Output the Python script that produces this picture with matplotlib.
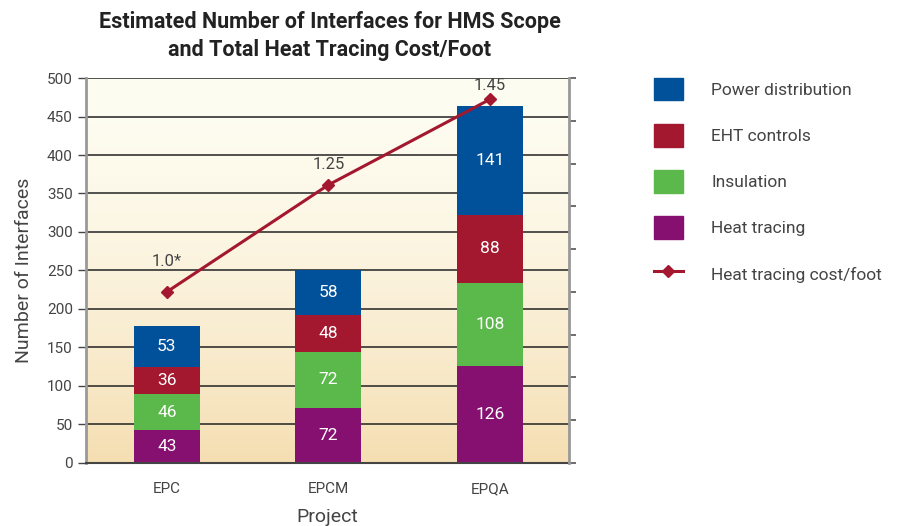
import numpy as np
import matplotlib
matplotlib.use("Agg")
import matplotlib.pyplot as plt
from matplotlib.patches import Patch
from matplotlib.lines import Line2D

plt.rcParams['font.family'] = ['Roboto', 'DejaVu Sans']

projects = ["EPC", "EPCM", "EPQA"]
heat_tracing = [43, 72, 126]
insulation = [46, 72, 108]
eht_controls = [36, 48, 88]
power_distribution = [53, 58, 141]
cost_per_foot = [1.0, 1.25, 1.45]
cost_labels = ["1.0*", "1.25", "1.45"]

series = [
    ("Heat tracing", heat_tracing, "#85106f"),
    ("Insulation", insulation, "#5bb84a"),
    ("EHT controls", eht_controls, "#a3182e"),
    ("Power distribution", power_distribution, "#00509a"),
]
line_color = "#a3182e"
text_gray = "#444444"

fig = plt.figure(figsize=(9.01, 5.26), dpi=100)
ax = fig.add_axes([0.0955, 0.1198, 0.536, 0.7319])

# gradient background
grad = np.linspace(0, 1, 256).reshape(-1, 1)
top = np.array([254, 253, 242]) / 255
bot = np.array([245, 222, 178]) / 255
img = top + (bot - top) * grad[..., None] ** 1.6
x = np.arange(len(projects))
ax.set_xlim(-0.5, 2.49)
ax.set_ylim(0, 500)
ax.imshow(img, extent=[-0.5, 2.49, 0, 500], aspect="auto", zorder=0, origin="upper")

ax.set_axisbelow(True)
ax.yaxis.grid(True, color="#222222", lw=1.1)

bottom = np.zeros(len(projects))
for name, vals, col in series:
    ax.bar(x, vals, 0.41, bottom=bottom, color=col, zorder=2)
    for xi, v, b in zip(x, vals, bottom):
        ax.text(xi, b + v / 2, str(v), ha="center", va="center",
                color="white", fontsize=12.5, zorder=3)
    bottom += np.array(vals)

ax.set_yticks(np.arange(0, 501, 50))
ax.set_xticks(x)
ax.set_xticklabels(projects)
ax.tick_params(axis="y", labelsize=11, colors=text_gray, length=6, width=1, direction="out")
ax.tick_params(axis="x", labelsize=11, colors=text_gray, length=0, pad=14)
ax.set_ylabel("Number of Interfaces", fontsize=14, color=text_gray, labelpad=10)
ax.set_xlabel("Project", fontsize=14, color=text_gray, labelpad=8)
ax.spines["top"].set_visible(False)
ax.spines["right"].set_visible(False)
ax.spines["left"].set_color("#999999")
ax.spines["left"].set_linewidth(2)
ax.spines["bottom"].set_color("#444444")
ax.spines["bottom"].set_linewidth(1.5)

ax2 = ax.twinx()
ax2.set_ylim(0.6, 1.5)
ax2.set_yticks(np.arange(0.6, 1.51, 0.1))
ax2.set_yticklabels([])
ax2.tick_params(axis="y", length=5, width=1.2, colors="#555555")
ax2.spines["right"].set_color("#999999")
ax2.spines["right"].set_linewidth(2)
for s in ["top", "left", "bottom"]:
    ax2.spines[s].set_visible(False)
ax2.plot(x, cost_per_foot, color=line_color, lw=2.2, marker="D", ms=6, zorder=4)
label_offsets = [22, 15, 10]
for xi, v, lab, off in zip(x, cost_per_foot, cost_labels, label_offsets):
    ax2.annotate(lab, (xi, v), xytext=(0, off), textcoords="offset points",
                 ha="center", va="center", fontsize=12, color=text_gray)

fig.text(0.366, 0.98, "Estimated Number of Interfaces for HMS Scope\nand Total Heat Tracing Cost/Foot",
         ha="center", va="top", fontsize=15.5, fontweight="semibold", color="#222222", linespacing=1.38)

handles = [Patch(color=c) for _, _, c in series[::-1]]
labels = [n for n, _, _ in series[::-1]]
handles.append(Line2D([0], [0], color=line_color, lw=2.2, marker="D", ms=6))
labels.append("Heat tracing cost/foot")
fig.legend(handles, labels, loc="upper left", bbox_to_anchor=(0.708, 0.882), frameon=False,
           fontsize=12.5, labelcolor=text_gray, handlelength=1.68, handleheight=1.63,
           handletextpad=1.65, labelspacing=1.36)

fig.savefig("out.png", dpi=100)
